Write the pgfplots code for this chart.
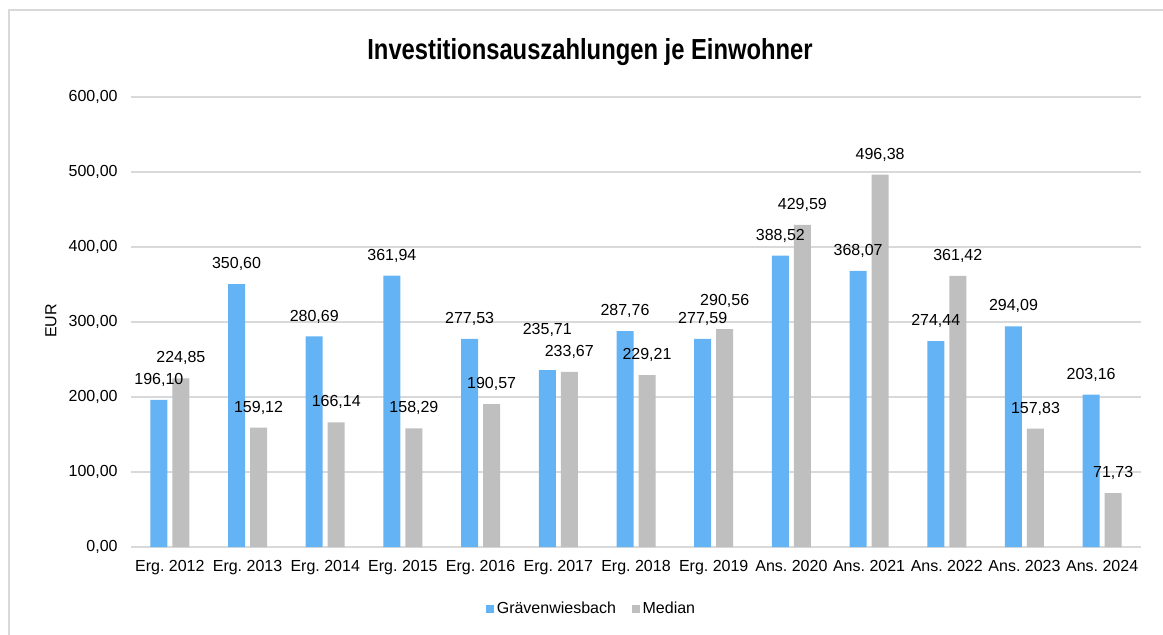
\documentclass[border=0pt]{standalone}
\usepackage{pgfplots}
\pgfplotsset{compat=1.18}
\usepackage{pgfplotstable}
\usepackage{fontspec}
\setmainfont{Liberation Sans}
\newfontfamily\titlefont[FakeStretch=0.82]{Liberation Sans}
\frenchspacing

\definecolor{gwblue}{HTML}{64B4F5}
\definecolor{medgray}{HTML}{BFBFBF}
\definecolor{gridgray}{HTML}{D9D9D9}

% dy: extra lift of a label in pt
\pgfplotstableread{
x  y       dy
0  196.10  0
1  350.60  0
2  280.69  0
3  361.94  0
4  277.53  0
5  235.71  15
6  287.76  0
7  277.59  0
8  388.52  0
9  368.07  0
10 274.44  0
11 294.09  0
12 203.16  0
}\gwtable
\pgfplotstableread{
x  y       dy
0  224.85  0
1  159.12  0
2  166.14  0
3  158.29  0
4  190.57  0
5  233.67  0
6  229.21  0
7  290.56  6
8  429.59  0
9  496.38  0
10 361.42  0
11 157.83  0
12 71.73   0
}\medtable

\begin{document}
\frenchspacing
\begin{tikzpicture}
\useasboundingbox (0pt,0pt) rectangle (872.25pt,-476.25pt);
\draw[gridgray, line width=0.8pt] (6.75pt,-480pt) -- (6.75pt,-7.5pt) -- (880pt,-7.5pt);
\node[anchor=base, font=\titlefont\bfseries\fontsize{21.75}{26}\selectfont] at (442.5pt,-44.5pt) {Investitionsauszahlungen je Einwohner};
\begin{axis}[
  at={(98.25pt,-410.25pt)}, anchor=south west,
  scale only axis, width=757.5pt, height=337.5pt,
  ybar=3.75pt, bar width=12.75pt,
  xmin=-0.5, xmax=12.5, ymin=0, ymax=600,
  enlargelimits=false,
  xtick=data,
  xticklabels={Erg. 2012,Erg. 2013,Erg. 2014,Erg. 2015,Erg. 2016,Erg. 2017,Erg. 2018,Erg. 2019,Ans. 2020,Ans. 2021,Ans. 2022,Ans. 2023,Ans. 2024},
  ytick={0,100,...,600},
  major tick length=0pt,
  axis x line*=bottom, axis y line*=left,
  x axis line style={-, draw=gridgray, line width=1pt},
  y axis line style={draw=none},
  ymajorgrids, grid style={gridgray, line width=0.8pt},
  tick label style={font=\fontsize{12}{14}\selectfont\frenchspacing},
  xticklabel style={anchor=north, yshift=-6.5pt},
  yticklabel style={anchor=east, xshift=-6.5pt},
  /pgf/number format/.cd, fixed, fixed zerofill, precision=2, use comma, 1000 sep={}, assume math mode=true,
  /pgfplots/.cd,
  ylabel={EUR},
  ylabel style={at={(axis description cs:-0.0792,0.5027)}, anchor=center, font=\fontsize{12}{14}\selectfont},
  nodes near coords,
  visualization depends on={\thisrow{dy} \as \dy},
  every node near coord/.append style={anchor=center, yshift={(15+\dy)*1pt}, font=\fontsize{12}{14}\selectfont, text=black},
  legend columns=2,
  legend style={at={(axis description cs:0.4564,-0.1378)}, anchor=center, draw=none, font=\fontsize{12}{14}\selectfont,
    /tikz/every even column/.append style={column sep=10pt}},
  legend image code/.code={\fill[#1] (0pt,-3pt) rectangle (6pt,3pt);},
]
\addplot[fill=gwblue, draw=none] table[x=x, y=y] {\gwtable};
\addplot[fill=medgray, draw=none] table[x=x, y=y] {\medtable};
\legend{Grävenwiesbach, Median}
\end{axis}
\end{tikzpicture}
\end{document}
